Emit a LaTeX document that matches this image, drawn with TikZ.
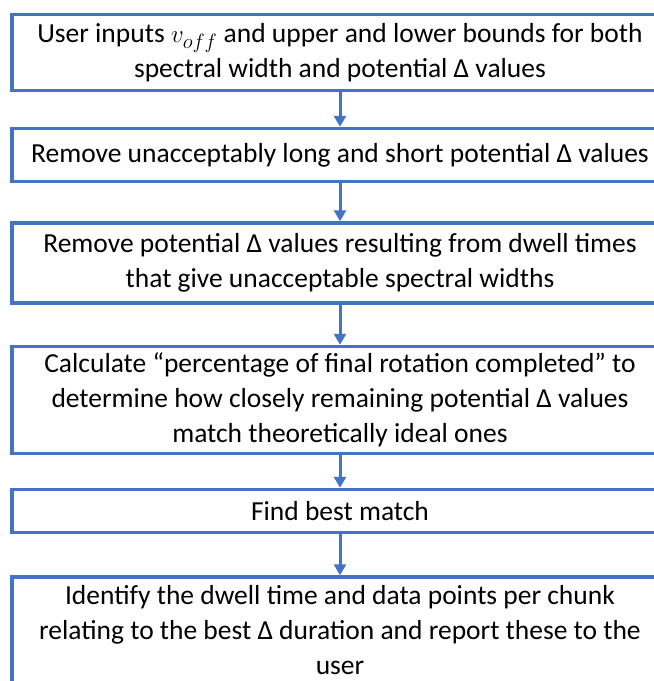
\documentclass[tikz,border=0pt]{standalone}
\usepackage{fontspec}
\setmainfont{Carlito}
\usetikzlibrary{arrows.meta}
\definecolor{boxblue}{HTML}{4472C4}
\tikzset{
  flowbox/.style={draw=boxblue, line width=3.5pt, fill=white, align=center,
    minimum width=656pt, inner sep=0pt,
    font=\fontsize{27.5}{35}\selectfont},
  flowarrow/.style={draw=boxblue, line width=3pt, -{Triangle[length=11pt,width=12pt]}}
}
\begin{document}
\begin{tikzpicture}[x=1pt,y=-1pt]
\useasboundingbox (0,0) rectangle (654,681);
\clip (0,0) rectangle (654,681);
\fill[white] (0,0) rectangle (654,681);
\node[flowbox, minimum height=76pt] (b1) at (340,52.5) {User inputs $v_{off}$ and upper and lower bounds for both\\spectral width and potential Δ values};
\node[flowbox, minimum height=53pt] (b2) at (340,155) {Remove unacceptably long and short potential Δ values};
\node[flowbox, minimum height=80pt] (b3) at (340,263) {Remove potential Δ values resulting from dwell times\\that give unacceptable spectral widths};
\node[flowbox, minimum height=107pt] (b4) at (340,400) {Calculate “percentage of final rotation completed” to\\determine how closely remaining potential Δ values\\match theoretically ideal ones};
\node[flowbox, minimum height=43pt] (b5) at (340,511) {Find best match};
\node[flowbox, minimum height=106pt] (b6) at (340,630) {Identify the dwell time and data points per chunk\\relating to the best Δ duration and report these to the\\user};
\draw[flowarrow] (b1.south) -- (b2.north);
\draw[flowarrow] (b2.south) -- (b3.north);
\draw[flowarrow] (b3.south) -- (b4.north);
\draw[flowarrow] (b4.south) -- (b5.north);
\draw[flowarrow] (b5.south) -- (b6.north);
\end{tikzpicture}
\end{document}
